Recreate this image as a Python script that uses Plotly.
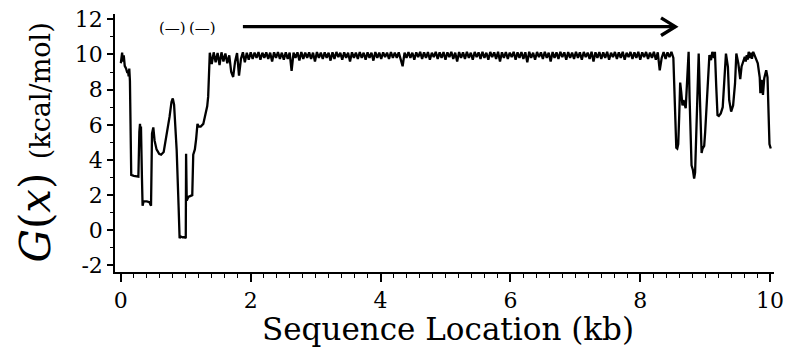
import plotly.graph_objects as go

# ---- data ----
# left part of the profile (kb, kcal/mol)
left_kb = [0.00, 0.01, 0.02, 0.03, 0.045, 0.06, 0.08, 0.10, 0.11, 0.12, 0.13, 0.14,
           0.155, 0.16, 0.20, 0.25, 0.27, 0.285, 0.295, 0.305, 0.31, 0.325, 0.335,
           0.35, 0.40, 0.44, 0.465, 0.48, 0.50, 0.52, 0.55, 0.59, 0.62, 0.66, 0.70,
           0.73, 0.75, 0.78, 0.80, 0.82, 0.86, 0.89, 0.905, 0.92, 0.95, 0.98, 1.00,
           1.005, 1.015, 1.04, 1.08, 1.10, 1.115, 1.14, 1.16, 1.18, 1.20, 1.23, 1.27,
           1.30, 1.33, 1.345, 1.36]
left_g = [9.5, 9.9, 10.1, 9.6, 9.95, 9.35, 9.2, 8.95, 9.1, 8.75, 9.2, 8.5,
          3.3, 3.15, 3.1, 3.05, 3.05, 5.6, 6.05, 5.4, 5.9, 3.0, 1.4,
          1.65, 1.65, 1.6, 1.4, 5.5, 5.85, 5.1, 4.6, 4.35, 4.3, 4.45, 5.3,
          6.1, 6.45, 7.3, 7.5, 7.15, 4.55, 1.3, -0.45, -0.35, -0.4, -0.38, -0.45,
          4.35, 1.7, 1.9, 1.95, 2.0, 4.3, 4.6, 5.2, 6.05, 5.9, 5.9, 6.05,
          6.65, 7.05, 7.6, 9.8]

# plateau: samples every 0.03 kb starting at 1.37 kb
plateau_start_kb = 1.37
plateau_step_kb = 0.03
plateau_g = [
    10.1, 9.45, 10.12, 9.55, 10.08, 9.4, 10.12, 9.6, 10.05, 9.5,
    9.95, 9.0, 8.72, 9.6, 10.08, 8.8, 9.75, 10.12, 9.55, 10.1,
    9.7, 10.12, 9.75, 10.1, 9.8, 10.14, 9.7, 10.1, 9.8, 10.12,
    9.75, 10.1, 9.6, 10.12, 9.8, 10.14, 9.75, 10.1, 9.7, 10.12,
    9.75, 10.1, 9.07, 10.1, 9.8, 10.12, 9.65, 10.14, 9.75, 10.1,
    9.8, 10.12, 9.75, 10.1, 9.6, 10.14, 9.8, 10.1, 9.75, 10.12,
    9.8, 10.1, 9.65, 10.12, 9.75, 10.14, 9.85, 10.1, 9.7, 10.12,
    9.8, 10.1, 9.6, 10.12, 9.8, 10.1, 9.75, 10.14, 9.8, 10.1,
    9.7, 10.12, 9.8, 10.1, 9.65, 10.14, 9.8, 10.1, 9.75, 10.12,
    9.85, 10.1, 9.75, 10.14, 9.8, 10.1, 9.8, 10.12, 9.7, 9.33,
    10.1, 9.8, 10.14, 9.8, 10.1, 9.7, 10.12, 9.85, 10.15, 9.75,
    10.12, 9.8, 10.14, 9.7, 10.1, 9.85, 10.15, 9.75, 10.12, 9.8,
    10.14, 9.7, 10.12, 9.85, 10.15, 9.75, 10.1, 9.6, 10.14, 9.8,
    10.12, 9.75, 10.15, 9.8, 10.1, 9.7, 10.14, 9.85, 10.12, 9.75,
    10.15, 9.8, 10.1, 9.7, 10.14, 9.85, 10.12, 9.75, 10.15, 9.6,
    10.12, 9.8, 10.14, 9.75, 10.1, 9.85, 10.15, 9.7, 10.12, 9.8,
    10.14, 9.75, 10.12, 9.55, 10.15, 9.8, 10.1, 9.7, 10.14, 9.85,
    10.12, 9.75, 10.15, 9.8, 10.1, 9.6, 10.14, 9.8, 10.12, 9.75,
    10.15, 9.85, 10.12, 9.7, 10.14, 9.8, 10.1, 9.75, 10.15, 9.8,
    10.12, 9.7, 10.14, 9.85, 10.1, 9.75, 10.15, 9.6, 10.12, 9.8,
    10.14, 9.75, 10.12, 9.8, 10.15, 9.7, 10.1, 9.85, 10.14, 9.75,
    10.12, 9.8, 10.15, 9.7, 10.1, 9.85, 10.14, 9.75, 10.12, 9.8,
    10.15, 9.7, 10.12, 9.85, 10.14, 9.75, 10.1, 9.8, 10.15, 9.7,
    10.12, 9.1, 9.8, 10.14, 9.75, 10.12, 9.85, 10.15, 9.8,
]

# right part of the profile
right_kb = [8.53, 8.545, 8.555, 8.57, 8.585, 8.60, 8.615, 8.63, 8.65, 8.665, 8.68,
            8.70, 8.715, 8.73, 8.745, 8.76, 8.775, 8.79, 8.81, 8.83, 8.845, 8.86,
            8.88, 8.90, 8.92, 8.945, 8.96, 8.985, 9.00, 9.02, 9.045, 9.065, 9.09,
            9.11, 9.135, 9.15, 9.17, 9.19, 9.21, 9.24, 9.27, 9.30, 9.32, 9.35,
            9.37, 9.40, 9.43, 9.46, 9.48, 9.51, 9.54, 9.56, 9.59, 9.61, 9.625,
            9.64, 9.655, 9.67, 9.69, 9.705, 9.72, 9.74, 9.76, 9.79, 9.81, 9.84,
            9.85, 9.87, 9.89, 9.91, 9.94, 9.96, 9.98, 9.99, 10.01]
right_g = [7.0, 5.0, 4.7, 4.65, 4.9, 6.5, 8.4, 7.9, 7.1, 7.4, 7.2,
           6.95, 8.0, 9.7, 10.15, 7.5, 5.2, 3.7, 3.45, 2.94, 3.3, 5.5,
           8.5, 10.05, 7.4, 4.4, 4.65, 4.8, 5.6, 6.8, 8.35, 9.96, 9.68,
           10.15, 9.8, 10.15, 8.2, 6.55, 6.5, 6.65, 7.0, 8.7, 10.05, 9.3,
           7.4, 6.75, 7.1, 8.35, 10.05, 9.5, 8.6, 9.3, 9.6, 9.87, 9.6,
           9.96, 9.7, 10.15, 9.8, 10.1, 9.75, 10.15, 9.96, 9.6, 9.5, 8.7,
           7.8, 8.55, 7.7, 8.65, 9.1, 8.7, 5.5, 4.9, 4.65]

x_ticks = [0, 2, 4, 6, 8, 10]
y_ticks = [-2, 0, 2, 4, 6, 8, 10, 12]

# arrow and small markers at the top
arrow_start_kb, arrow_end_kb, arrow_g = 1.88, 8.54, 11.58
arrow_head_dx, arrow_head_dy = 0.22, 0.5
marker_kb = [0.79, 1.25]
marker_g = 11.5

# ---- build series ----
plateau_kb = [round(plateau_start_kb + plateau_step_kb * i, 4) for i in range(len(plateau_g))]
all_kb = left_kb + plateau_kb + right_kb
all_g = left_g + plateau_g + right_g

FONT = "DejaVu Serif"

fig = go.Figure()
fig.add_trace(go.Scatter(x=all_kb, y=all_g, mode="lines",
                         line=dict(color="black", width=2.3), hoverinfo="skip"))

# arrow: shaft + open chevron head
fig.add_trace(go.Scatter(x=[arrow_start_kb, arrow_end_kb], y=[arrow_g, arrow_g], mode="lines",
                         line=dict(color="black", width=3.2), hoverinfo="skip"))
fig.add_trace(go.Scatter(x=[arrow_end_kb - arrow_head_dx, arrow_end_kb, arrow_end_kb - arrow_head_dx],
                         y=[arrow_g + arrow_head_dy, arrow_g, arrow_g - arrow_head_dy],
                         mode="lines", line=dict(color="black", width=3.4), hoverinfo="skip"))

for mk in marker_kb:
    fig.add_annotation(x=mk, y=marker_g, xref="x", yref="y", text="(—)",
                       showarrow=False, font=dict(family=FONT, size=15, color="black"))

# y-axis title
fig.add_annotation(xref="paper", yref="paper", x=-0.122, y=0.5,
                   xanchor="center", yanchor="middle", textangle=-90, showarrow=False,
                   text="<i>G</i>(<i>x</i>) <span style='font-size:27px'>(kcal/mol)</span>",
                   font=dict(family=FONT, size=42, color="black"))

# x-axis title
fig.add_annotation(xref="paper", yref="paper", x=0.505, y=-0.222,
                   xanchor="center", yanchor="middle", showarrow=False,
                   text="Sequence Location (kb)",
                   font=dict(family=FONT, size=31, color="black"))

axis_common = dict(showline=True, linecolor="black", linewidth=1.5, showgrid=False,
                   zeroline=False, ticks="outside", tickcolor="black", tickwidth=1.5,
                   automargin=False, ticklabeloverflow="allow",
                   tickfont=dict(family=FONT, size=22, color="black"))

fig.update_xaxes(range=[-0.09, 10.06], tickvals=x_ticks, ticktext=[str(v) for v in x_ticks],
                 ticklen=8,
                 minor=dict(dtick=0.2, tick0=0, ticks="outside", ticklen=4,
                            tickcolor="black", tickwidth=1.2, showgrid=False),
                 **axis_common)
fig.update_yaxes(range=[-2.37, 12.3], tickvals=y_ticks, ticktext=[str(v) for v in y_ticks],
                 ticklen=6,
                 minor=dict(dtick=1, tick0=0, ticks="outside", ticklen=3,
                            tickcolor="black", tickwidth=1.2, showgrid=False),
                 **axis_common)

fig.update_layout(width=786, height=358, margin=dict(l=115, r=12, t=14, b=86),
                  plot_bgcolor="white", paper_bgcolor="white", showlegend=False)

# remove the default page margin so the 786x358 figure fills the window exactly
fig.write_html("out.html", config={"displayModeBar": False},
               post_script="document.body.style.margin='0';document.body.style.overflow='hidden';")
